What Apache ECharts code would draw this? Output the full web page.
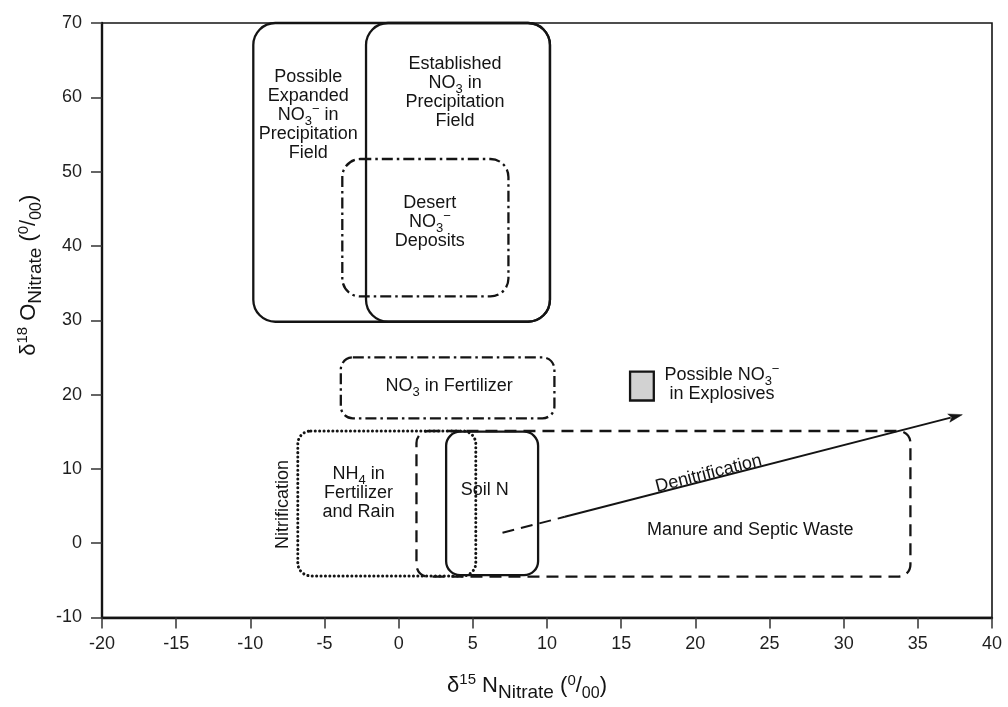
<!DOCTYPE html>
<html><head><meta charset="utf-8">
<script src="https://cdn.jsdelivr.net/npm/echarts@6/dist/echarts.min.js"></script>
<style>html,body{margin:0;padding:0;background:#fff}#c{width:1008px;height:707px}</style>
</head><body><div id="c"></div>
<script>
// ---------------- data ----------------
const xTicks = [-20, -15, -10, -5, 0, 5, 10, 15, 20, 25, 30, 35, 40];
const yTicks = [-10, 0, 10, 20, 30, 40, 50, 60, 70];

// source regions (delta15N range, delta18O range)
const regionNames = ['Possible Expanded', 'Established', 'Desert', 'NO3 Fertilizer', 'NH4', 'Manure', 'Soil N', 'Explosives'];
const regionXMin = [-9.8, -2.2, -3.8, -3.9, -6.8, 1.2, 3.2, 15.6];
const regionXMax = [10.2, 10.2, 7.4, 10.5, 5.2, 34.5, 9.4, 17.2];
const regionYMin = [29.8, 29.8, 33.2, 16.8, -4.4, -4.5, -4.3, 19.2];
const regionYMax = [70, 70, 51.7, 25.0, 15.1, 15.1, 15.0, 23.1];

// annotation texts and their anchors (data units)
const labelTexts = [
  'Possible\nExpanded\nNO{sub|3}{sup|\u2212} in\nPrecipitation\nField',
  'Established\nNO{sub|3} in\nPrecipitation\nField',
  'Desert\nNO{sub|3}{sup|\u2212}\nDeposits',
  'NO{sub|3} in Fertilizer',
  'NH{sub|4} in\nFertilizer\nand Rain',
  'Soil N',
  'Manure and Septic Waste',
  'Possible NO{sub|3}{sup|\u2212}\nin Explosives',
  'Nitrification'
];
const labelX = [-6.1, 3.8, 2.1, 3.4, -2.7, 5.8, 23.7, 21.8, -7.8];
const labelY = [57.6, 60.7, 43.2, 21.2, 6.7, 7.1, 1.8, 21.3, 5.2];

// denitrification trend: start, end of dashed part, arrow tip
const denitX = [7.0, 11.2, 38.0];
const denitY = [1.4, 3.55, 17.3];
const denitLabel = 'Denitrification';
const denitLabelX = [20.9];
const denitLabelY = [9.35];

// ---------------- styling ----------------
const FONT = '"Liberation Sans", Arial, Helvetica, sans-serif';
const INK = '#141414';
const boxStyle = {
  'Possible Expanded': {r: 22, w: 2.3, dash: null},
  'Established':       {r: 22, w: 2.3, dash: null},
  'Desert':            {r: 18, w: 2.3, dash: [11, 4, 2.5, 4]},
  'NO3 Fertilizer':    {r: 12, w: 2.3, dash: [11, 4, 2.5, 4]},
  'NH4':               {r: 13, w: 3, dash: [0.1, 4.3], cap: 'round'},
  'Manure':            {r: 12, w: 2.3, dash: [12, 7]},
  'Soil N':            {r: 14, w: 2.3, dash: null},
  'Explosives':        {r: 0, w: 2.3, dash: null, fill: '#d2d2d2'}
};
const labelRotation = {8: Math.PI / 2};
const RICH = {
  sub: {fontSize: 13, fontFamily: FONT, lineHeight: 2, padding: [13, 0, 0, 0], fill: INK},
  sup: {fontSize: 13, fontFamily: FONT, lineHeight: 2, padding: [0, 0, 12, 0], fill: INK}
};
const NAME_RICH = {
  a:   {fontSize: 22, fontFamily: FONT, color: INK, lineHeight: 26},
  sup: {fontSize: 15, fontFamily: FONT, color: INK, lineHeight: 2, padding: [0, 0, 11, 0]},
  sub: {fontSize: 19, fontFamily: FONT, color: INK, lineHeight: 2, padding: [14, 0, 0, 0]},
  sub2:{fontSize: 16, fontFamily: FONT, color: INK, lineHeight: 2, padding: [16, 0, 0, 0]},
  sup2:{fontSize: 15, fontFamily: FONT, color: INK, lineHeight: 2, padding: [0, 0, 9, 0]}
};

function renderBox(params, api) {
  const i = params.dataIndex;
  const p0 = api.coord([api.value(0), api.value(3)]);
  const p1 = api.coord([api.value(1), api.value(2)]);
  const st = boxStyle[regionNames[i]];
  return {
    type: 'rect',
    shape: {x: p0[0], y: p0[1], width: p1[0] - p0[0], height: p1[1] - p0[1], r: st.r},
    style: {fill: st.fill || null, stroke: INK, lineWidth: st.w, lineDash: st.dash, lineCap: st.cap || 'butt'}
  };
}

function renderLabel(params, api) {
  const i = params.dataIndex;
  const p = api.coord([api.value(0), api.value(1)]);
  return {
    type: 'text', x: p[0], y: p[1], rotation: labelRotation[i] || 0,
    style: {text: labelTexts[i], fill: INK, fontSize: 18, fontFamily: FONT, lineHeight: 19,
            align: 'center', verticalAlign: 'middle', rich: RICH}
  };
}

function renderArrow(params, api) {
  if (params.dataIndex !== 0) return null;
  const a = api.coord([denitX[0], denitY[0]]);
  const b = api.coord([denitX[1], denitY[1]]);
  const c = api.coord([denitX[2], denitY[2]]);
  const dx = c[0] - b[0], dy = c[1] - b[1];
  const len = Math.sqrt(dx * dx + dy * dy);
  const ux = dx / len, uy = dy / len;
  const hl = 14, hw = 4.2;
  const base = [c[0] - ux * hl, c[1] - uy * hl];
  const lp = api.coord([denitLabelX[0], denitLabelY[0]]);
  return {
    type: 'group',
    children: [
      {type: 'line', shape: {x1: a[0], y1: a[1], x2: b[0], y2: b[1]},
       style: {stroke: INK, lineWidth: 2, lineDash: [12, 7]}},
      {type: 'line', shape: {x1: b[0], y1: b[1], x2: base[0] + ux * 2, y2: base[1] + uy * 2},
       style: {stroke: INK, lineWidth: 2}},
      {type: 'polygon', shape: {points: [c, [base[0] - uy * hw, base[1] + ux * hw], [base[0] + ux * 3, base[1] + uy * 3], [base[0] + uy * hw, base[1] - ux * hw]]},
       style: {fill: INK, stroke: INK, lineWidth: 0.5}},
      {type: 'text', x: lp[0], y: lp[1], rotation: Math.atan2(-dy, dx),
       style: {text: denitLabel, fill: INK, fontSize: 18, fontFamily: FONT, align: 'center', verticalAlign: 'middle'}}
    ]
  };
}

const chart = echarts.init(document.getElementById('c'), null, {renderer: 'canvas'});
chart.setOption({
  animation: false,
  backgroundColor: '#fff',
  grid: {left: 102, right: 16, top: 23, bottom: 88, show: true, borderColor: INK, borderWidth: 1.6, backgroundColor: 'transparent'},
  xAxis: {
    type: 'value', min: xTicks[0], max: xTicks[xTicks.length - 1], interval: xTicks[1] - xTicks[0],
    axisLine: {show: true, onZero: false, lineStyle: {color: INK, width: 2.4}},
    axisTick: {show: true, length: 11, lineStyle: {color: '#333', width: 1.5}},
    axisLabel: {fontSize: 18, fontFamily: FONT, color: '#1e1e1e', margin: 18},
    splitLine: {show: false},
    name: '{a|\u03b4}{sup|15}{a| N}{sub|Nitrate}{a| (}{sup2|0}{a|/}{sub2|00}{a|)}',
    nameLocation: 'middle', nameGap: 55,
    nameTextStyle: {fontSize: 22, fontFamily: FONT, color: INK, padding: [0, 40, 0, 0], rich: NAME_RICH}
  },
  yAxis: {
    type: 'value', min: yTicks[0], max: yTicks[yTicks.length - 1], interval: yTicks[1] - yTicks[0],
    axisLine: {show: true, onZero: false, lineStyle: {color: INK, width: 2.4}},
    axisTick: {show: true, length: 11, lineStyle: {color: '#333', width: 1.5}},
    axisLabel: {fontSize: 18, fontFamily: FONT, color: '#1e1e1e', margin: 20},
    splitLine: {show: false},
    name: '{a|\u03b4}{sup|18}{a| O}{sub|Nitrate}{a| (}{sup2|0}{a|/}{sub2|00}{a|)}',
    nameLocation: 'middle', nameGap: 56, nameRotate: 90,
    nameTextStyle: {fontSize: 22, fontFamily: FONT, color: INK, padding: [0, 0, 0, 90], rich: NAME_RICH}
  },
  series: [
    {
      type: 'custom', name: 'regions', silent: true, renderItem: renderBox,
      encode: {x: [0, 1], y: [2, 3]},
      data: regionNames.map((n, i) => [regionXMin[i], regionXMax[i], regionYMin[i], regionYMax[i]])
    },
    {
      type: 'custom', name: 'denitrification', silent: true, renderItem: renderArrow,
      encode: {x: 0, y: 1},
      data: denitX.map((x, i) => [x, denitY[i]])
    },
    {
      type: 'custom', name: 'labels', silent: true, renderItem: renderLabel,
      encode: {x: 0, y: 1},
      data: labelTexts.map((t, i) => [labelX[i], labelY[i]])
    }
  ]
});
</script>
</body></html>
